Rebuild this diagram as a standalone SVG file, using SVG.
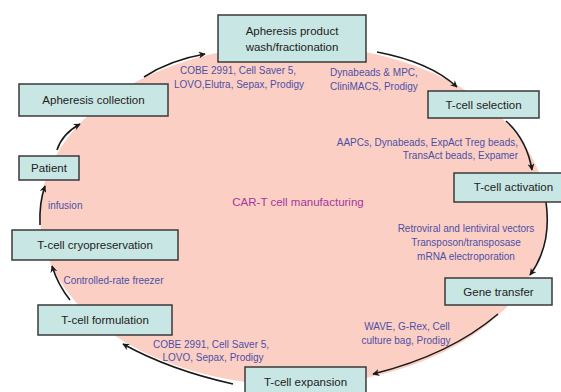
<svg xmlns="http://www.w3.org/2000/svg" width="561" height="392" viewBox="0 0 561 392">
<defs>
<style>
.box{fill:#c8e6e3;stroke:#3a3a3a;stroke-width:1.5}
.nt{font-family:"Liberation Sans",Arial,sans-serif;font-size:11.5px;fill:#222;text-anchor:middle}
.lb{font-family:"Liberation Sans",Arial,sans-serif;font-size:10px;fill:#4d4fa6}
.c{text-anchor:middle}
.r{text-anchor:end}
.arr{fill:none;stroke:#1a1a1a;stroke-width:1.6;marker-end:url(#ah)}
</style>
<marker id="ah" viewBox="0 0 10 10" refX="9" refY="5" markerWidth="7" markerHeight="7" markerUnits="userSpaceOnUse" orient="auto">
<path d="M0,0 L10,5 L0,10 L3,5 z" fill="#1a1a1a"/>
</marker>
</defs>
<rect width="561" height="392" fill="#fff"/>
<ellipse cx="293.5" cy="215" rx="253.5" ry="170" fill="#fccfc4"/>
<text x="298" y="206" font-family="'Liberation Sans',Arial,sans-serif" font-size="11.5" fill="#a3389d" text-anchor="middle">CAR-T cell manufacturing</text>
<g id="connectors">
<path class="arr" d="M57,150 Q62,134 80,124"/>
<path class="arr" d="M144,77 Q170,60 205,54"/>
<path class="arr" d="M377,52 Q430,62 457,87"/>
<path class="arr" d="M506,121 Q527,140 532,170"/>
<path class="arr" d="M546,202 Q552,245 530,275"/>
<path class="arr" d="M498,314 Q450,355 373,374"/>
<path class="arr" d="M233,384 Q170,370 123,344"/>
<path class="arr" d="M70,300 Q58,285 52,266"/>
<path class="arr" d="M40,225 Q39,203 45,186"/>
</g>
<g id="labels">
<text class="lb c" x="238" y="74">COBE 2991, Cell Saver 5,</text>
<text class="lb c" x="239" y="88">LOVO,Elutra, Sepax, Prodigy</text>
<text class="lb" x="330" y="76">Dynabeads &amp; MPC,</text>
<text class="lb" x="330" y="90">CliniMACS, Prodigy</text>
<text class="lb r" x="518" y="146">AAPCs, Dynabeads, ExpAct Treg beads,</text>
<text class="lb r" x="518" y="159">TransAct beads, Expamer</text>
<text class="lb c" x="466" y="232">Retroviral and lentiviral vectors</text>
<text class="lb c" x="466" y="246">Transposon/transposase</text>
<text class="lb c" x="466" y="260">mRNA electroporation</text>
<text class="lb c" x="407" y="330">WAVE, G-Rex, Cell</text>
<text class="lb c" x="406" y="344">culture bag, Prodigy</text>
<text class="lb c" x="211" y="348">COBE 2991, Cell Saver 5,</text>
<text class="lb c" x="213" y="361">LOVO, Sepax, Prodigy</text>
<text class="lb c" x="113.5" y="284">Controlled-rate freezer</text>
<text class="lb" x="48" y="209">infusion</text>
</g>
<g id="node-wash"><rect class="box" x="218" y="15" width="148" height="47"/><text class="nt" x="292" y="35">Apheresis product</text><text class="nt" x="292" y="51">wash/fractionation</text></g>
<g id="node-collection"><rect class="box" x="19" y="84" width="149" height="32"/><text class="nt" x="93.5" y="104">Apheresis collection</text></g>
<g id="node-patient"><rect class="box" x="19" y="156" width="60" height="24"/><text class="nt" x="49" y="172">Patient</text></g>
<g id="node-selection"><rect class="box" x="428" y="91" width="111" height="27"/><text class="nt" x="483.5" y="109">T-cell selection</text></g>
<g id="node-activation"><rect class="box" x="454" y="173" width="120" height="29"/><text class="nt" x="513.5" y="191">T-cell activation</text></g>
<g id="node-gene"><rect class="box" x="445" y="278" width="107" height="27"/><text class="nt" x="498.5" y="296">Gene transfer</text></g>
<g id="node-expansion"><rect class="box" x="245" y="367" width="121" height="32"/><text class="nt" x="305.5" y="386">T-cell expansion</text></g>
<g id="node-formulation"><rect class="box" x="38" y="305" width="134" height="30"/><text class="nt" x="105" y="324">T-cell formulation</text></g>
<g id="node-cryo"><rect class="box" x="12" y="230" width="166" height="30"/><text class="nt" x="95" y="249">T-cell cryopreservation</text></g>
</svg>
